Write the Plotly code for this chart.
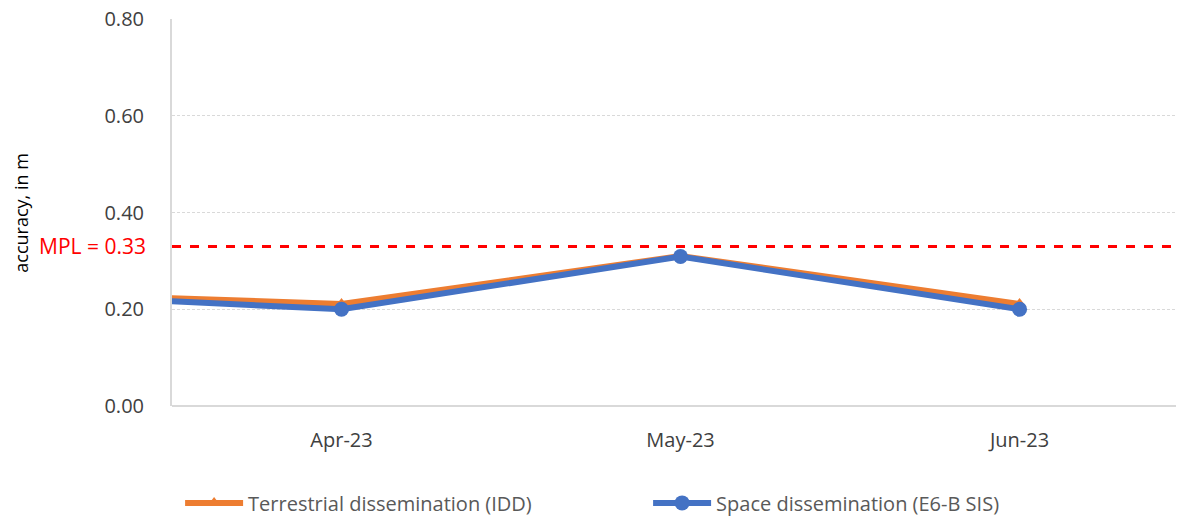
import plotly.graph_objects as go

months = ["Mar-23", "Apr-23", "May-23", "Jun-23"]
terrestrial = [0.235, 0.211, 0.310, 0.211]
space = [0.233, 0.200, 0.309, 0.200]
mpl_value = 0.33
y_ticks = [0.0, 0.2, 0.4, 0.6, 0.8]

FONT = "Open Sans"
fig = go.Figure()

fig.add_trace(go.Scatter(
    x=months, y=terrestrial, mode="lines+markers",
    name="Terrestrial dissemination (IDD)",
    line=dict(color="#ED7D31", width=6),
    marker=dict(symbol="triangle-up", size=12, color="#ED7D31"),
))
fig.add_trace(go.Scatter(
    x=months, y=space, mode="lines+markers",
    name="Space dissemination (E6-B SIS)",
    line=dict(color="#4472C4", width=6),
    marker=dict(symbol="circle", size=15, color="#4472C4"),
))

fig.add_shape(type="line", xref="paper", yref="y", x0=0, x1=1,
              y0=mpl_value, y1=mpl_value,
              line=dict(color="#FF0000", width=3, dash="dash"))

fig.add_annotation(xref="paper", yref="y", x=-0.0237, y=mpl_value,
                   xanchor="right", yanchor="middle", showarrow=False,
                   text="MPL = %.2f" % mpl_value,
                   font=dict(family=FONT, size=21, color="#FF0000"))

fig.add_annotation(xref="paper", yref="paper", x=-0.15, y=0.5,
                   xanchor="center", yanchor="middle", showarrow=False,
                   textangle=-90, text="accuracy, in m",
                   font=dict(family=FONT, size=18, color="#000000"))

fig.update_layout(
    width=1176, height=513,
    margin=dict(l=164, r=0, t=11, b=115, autoexpand=False),
    paper_bgcolor="white", plot_bgcolor="white",
    font=dict(family=FONT, size=20, color="#404040"),
    showlegend=True,
    legend=dict(orientation="h", x=0.008, xanchor="left", y=-0.2, yanchor="top",
                font=dict(family=FONT, size=20, color="#595959"),
                itemwidth=58,
                entrywidth=395, entrywidthmode="pixels",
                traceorder="normal"),
    xaxis=dict(type="category", categoryorder="array", categoryarray=months,
               range=[0.5, 3.485], showgrid=False, zeroline=False, automargin=False,
               showline=False, ticks="", ticklabelstandoff=20,
               tickfont=dict(size=20, color="#404040")),
    yaxis=dict(range=[0, 0.8002], tickvals=y_ticks, automargin=False,
               ticktext=["%.2f" % v for v in y_ticks],
               ticklabeloverflow="allow",
               showgrid=True, gridcolor="#D9D9D9", griddash="3px,2px", gridwidth=1,
               zeroline=False, showline=True, linecolor="#D9D9D9", linewidth=2,
               ticks="", ticklabelstandoff=22,
               tickfont=dict(size=20, color="#404040")),
)

fig.add_shape(type="line", xref="paper", yref="paper", x0=0, x1=1, y0=0, y1=0,
              line=dict(color="#D9D9D9", width=2), layer="below")

fig.write_html("out.html")
